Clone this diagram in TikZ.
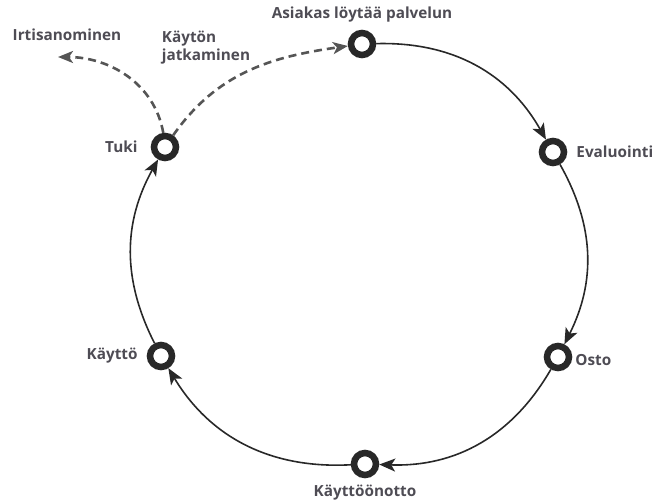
\documentclass[tikz,border=0pt]{standalone}
\usepackage{fontspec}
\setmainfont{Open Sans}
\usetikzlibrary{positioning,arrows.meta}
\definecolor{txtgray}{RGB}{78,76,84}
\definecolor{ringgray}{RGB}{40,40,40}
\definecolor{dashgray}{RGB}{85,85,85}
\tikzset{
  stage/.style={circle, draw=ringgray, line width=6.5pt, fill=white, minimum size=22pt, inner sep=0pt},
  lbl/.style={text=txtgray, font=\fontsize{15.3}{18}\selectfont\bfseries, inner sep=1pt},
  flow/.style={draw=ringgray, line width=1.6pt, -{Stealth[length=16pt,width=13pt,inset=4pt]}},
  dflow/.style={draw=dashgray, line width=2.6pt, dash pattern=on 8pt off 5pt, -{Stealth[length=15pt,width=12pt,inset=4pt]}},
}

\begin{document}
\begin{tikzpicture}[x=1pt,y=1pt]
\useasboundingbox (0,0) rectangle (656,-503);
\node[stage] (asiakas) at (362,-44) {};
\node[stage] (evaluointi) at (553,-152) {};
\node[stage] (osto) at (558,-357) {};
\node[stage] (kayttoonotto) at (365,-464) {};
\node[stage] (kaytto) at (161,-356) {};
\node[stage] (tuki) at (165,-147) {};
\node[lbl, above=6pt of asiakas] (asiakasL) {Asiakas löytää palvelun};
\node[lbl, right=8pt of evaluointi] (evaluointiL) {Evaluointi};
\node[lbl, right=2pt of osto, yshift=-3pt] (ostoL) {Osto};
\node[lbl, below=6pt of kayttoonotto] (kayttoonottoL) {Käyttöönotto};
\node[lbl, left=8pt of kaytto] (kayttoL) {Käyttö};
\node[lbl, left=12pt of tuki] (tukiL) {Tuki};
\node[lbl] (irtL) at (67,-35) {Irtisanominen};
\node[lbl, align=left] (jatkoL) at (206,-48) {Käytön\\jatkaminen};
\coordinate (irtEnd) at (58,-57);
\draw[flow] (asiakas) to[bend left=31] (evaluointi);
\draw[flow] (evaluointi) to[bend left=28] (osto);
\draw[flow] (osto) to[bend left=31] (kayttoonotto);
\draw[flow] (kayttoonotto) to[bend left=31] (kaytto);
\draw[flow] (kaytto) to[bend left=28] (tuki);
\draw[dflow] (tuki.97) to[out=100,in=0] (irtEnd);
\draw[dflow] (tuki.55) to[out=55,in=188] (asiakas);
\end{tikzpicture}
\end{document}
